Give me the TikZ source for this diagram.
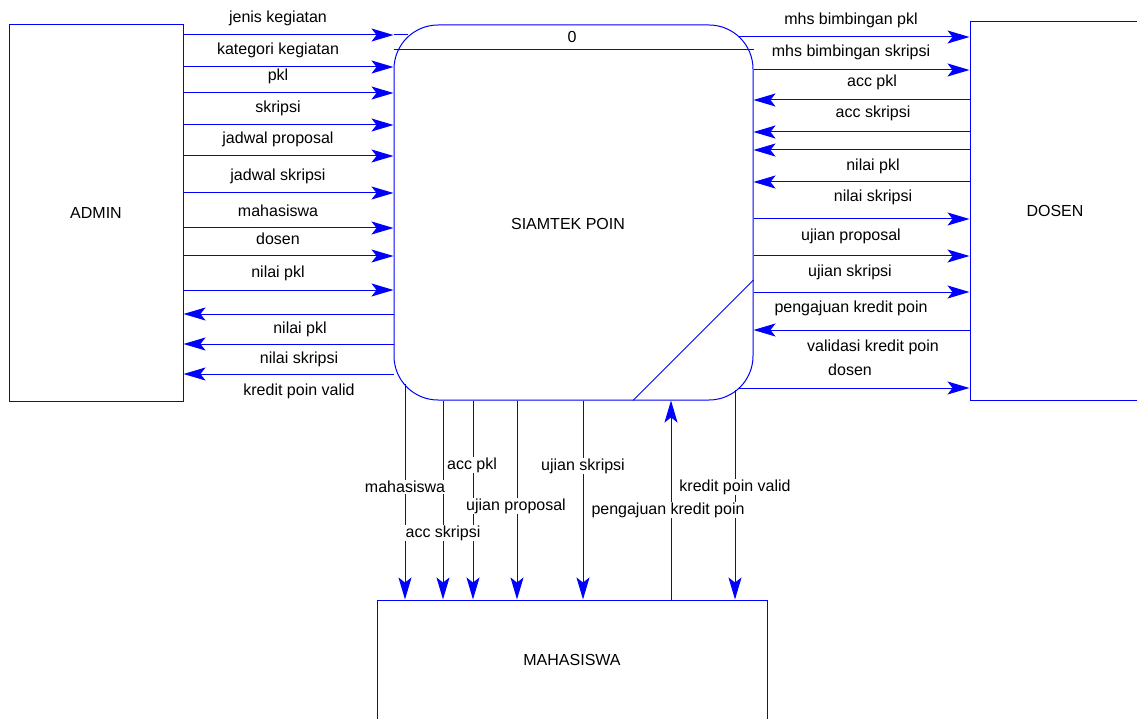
\documentclass[tikz,border=0pt]{standalone}
\usepackage{fontspec}
\setmainfont{Liberation Sans}
\usetikzlibrary{arrows.meta}
\begin{document}
\begin{tikzpicture}[x=1pt,y=-1pt,
  every node/.style={font=\fontsize{16}{19}\selectfont},
  ent/.style={draw=blue, line width=1pt, inner sep=0pt},
  flow/.style={draw=blue, line width=1pt, -{Stealth[length=22pt,width=13pt,inset=5pt]}},
  wire/.style={draw=blue, line width=1pt},
  lbl/.style={fill=white, inner sep=1pt},
]
\useasboundingbox (0,0) rectangle (1137,719);
% entities
\node[ent, minimum width=174pt, minimum height=376pt] (admin) at (96,213) {ADMIN};
\node[ent, minimum width=170pt, minimum height=378pt] (dosen) at (1055,211) {DOSEN};
\node[ent, minimum width=390pt, minimum height=120pt] (mhs) at (572,660) {MAHASISWA};
% process
\node[ent, rounded corners=44pt, minimum width=359pt, minimum height=375pt] (proc) at (573.5,212.5) {};
\node (procnum) at (572,37) {0};
\node (proctitle) at (568,224) {SIAMTEK POIN};
\draw[wire] (proc.west |- 0,50) -- (proc.east |- 0,50);
\draw[wire] (633,0 |- proc.south) -- (proc.east |- 0,280);
% ADMIN -> process
\foreach \y/\t [count=\i] in {35/jenis kegiatan, 67/kategori kegiatan, 93/pkl, 125/skripsi,
  156/jadwal proposal, 193/jadwal skripsi, 228/mahasiswa, 256/dosen, 290/nilai pkl} {
  \draw[flow] (admin.east |- 0,\y) -- (proc.west |- 0,\y);
  \node[lbl] (la\i) at (278,\y-17) {\t};
}
\draw[wire] (proc.west |- 0,35) -- (408,35);
% process -> ADMIN
\foreach \y in {314,344,374} {
  \draw[flow] (proc.west |- 0,\y) -- (admin.east |- 0,\y);
}
\node[lbl] (lb1) at (300,329) {nilai pkl};
\node[lbl] (lb2) at (299,359) {nilai skripsi};
\node[lbl] (lb3) at (299,391) {kredit poin valid};
% process -> DOSEN
\coordinate (c37) at (739,37);
\coordinate (c388) at (738,388);
\draw[flow] (c37) -- (dosen.west |- c37);
\draw[flow] (c388) -- (dosen.west |- c388);
\foreach \y in {70,219,256,292} {
  \draw[flow] (proc.east |- 0,\y) -- (dosen.west |- 0,\y);
}
% DOSEN -> process
\foreach \y in {100,132,150,182,330} {
  \draw[flow] (dosen.west |- 0,\y) -- (proc.east |- 0,\y);
}
\node[lbl] (r1) at (851,20) {mhs bimbingan pkl};
\node[lbl] (r2) at (851,52) {mhs bimbingan skripsi};
\node[lbl] (r3) at (872,82) {acc pkl};
\node[lbl] (r4) at (873,113) {acc skripsi};
\node[lbl] (r5) at (873,166) {nilai pkl};
\node[lbl] (r6) at (873,197) {nilai skripsi};
\node[lbl] (r7) at (851,236) {ujian proposal};
\node[lbl] (r8) at (850,272) {ujian skripsi};
\node[lbl] (r9) at (851,308) {pengajuan kredit poin};
\node[lbl] (r10) at (873,347) {validasi kredit poin};
\node[lbl] (r11) at (850,370) {dosen};
% process <-> MAHASISWA
\coordinate (b405) at (405,384);
\coordinate (b735) at (735,390);
\draw[flow] (b405) -- (b405 |- mhs.north);
\draw[flow] (b735) -- (b735 |- mhs.north);
\foreach \x in {443,473,517,583} {
  \draw[flow] (\x,0 |- proc.south) -- (\x,0 |- mhs.north);
}
\draw[flow] (671,0 |- mhs.north) -- (671,0 |- proc.south);
\node[lbl] (d1) at (405,487) {mahasiswa};
\node[lbl] (d3) at (472,465) {acc pkl};
\node[lbl] (d2) at (443,533) {acc skripsi};
\node[lbl] (d4) at (516,506) {ujian proposal};
\node[lbl] (d5) at (583,466) {ujian skripsi};
\node[lbl] (d6) at (668,510) {pengajuan kredit poin};
\node[lbl] (d7) at (735,487) {kredit poin valid};
\end{tikzpicture}
\end{document}
